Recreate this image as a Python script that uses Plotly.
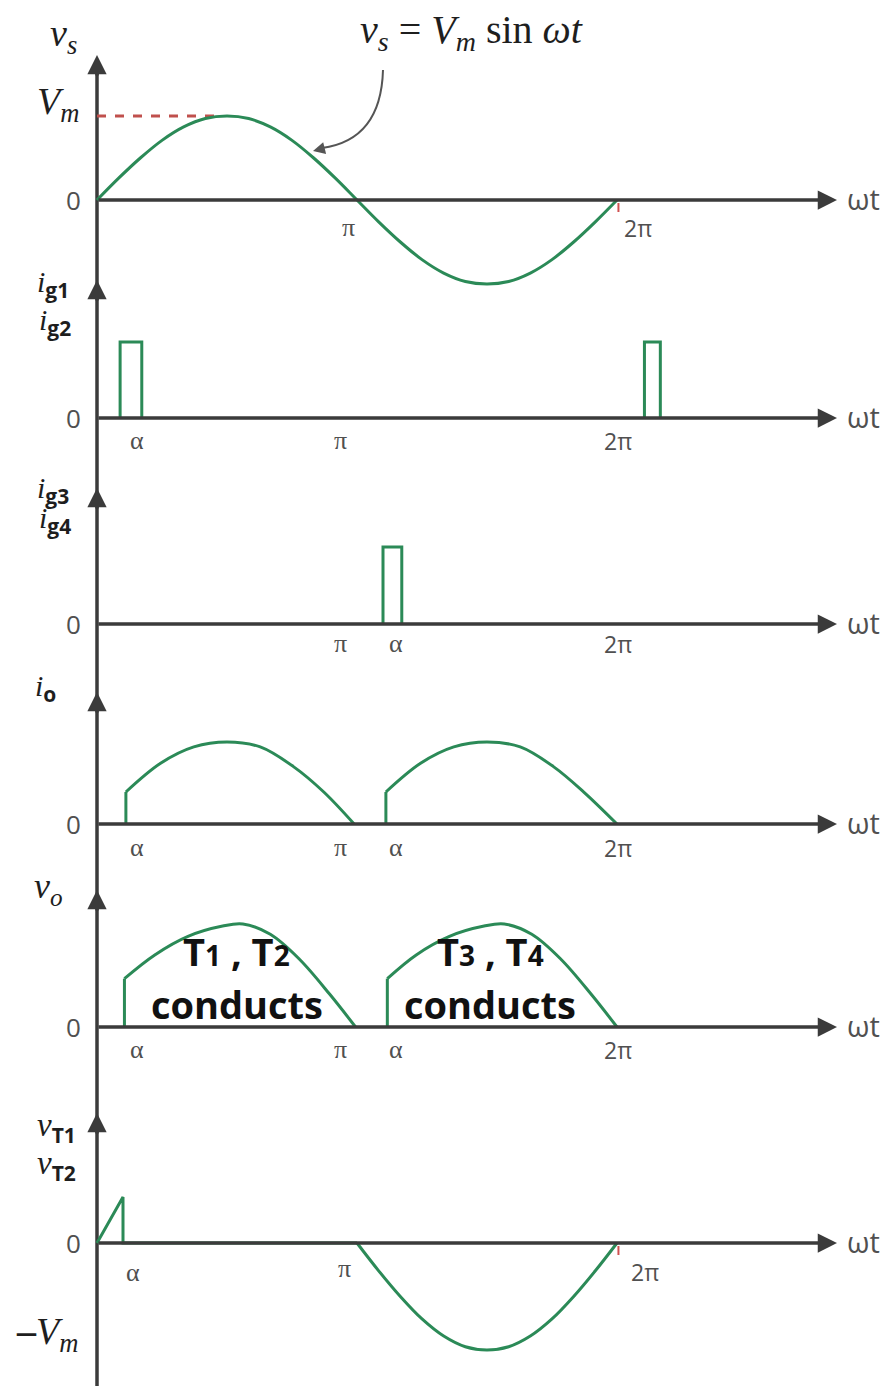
import plotly.graph_objects as go

# page body has an 8px margin; figure sized so it ends exactly at the window edge
OFF = 8
WIN_W, WIN_H = 891, 1395
W, H = WIN_W - OFF, WIN_H - OFF

# ---------------- data (angles in degrees, amplitudes normalised) ----------------
vs_deg = [0, 15, 30, 45, 60, 75, 90, 105, 120, 135, 150, 165, 180,
          195, 210, 225, 240, 255, 270, 285, 300, 315, 330, 345, 360]
vs_val = [0, 0.26, 0.5, 0.71, 0.87, 0.97, 1.0, 0.97, 0.87, 0.71, 0.5, 0.26, 0,
          -0.26, -0.5, -0.71, -0.87, -0.97, -1.0, -0.97, -0.87, -0.71, -0.5, -0.26, 0]
vm_dash_deg = [0, 82]
vm_dash_val = [1, 1]

ig12_start = [16, 379]
ig12_end = [31, 390]
ig34_start = [198]
ig34_end = [211]
pulse_height = 1.0

io_arch1_deg = [20, 44, 67, 90, 113, 136, 157, 178]
io_arch1_val = [0.39, 0.74, 0.94, 1.0, 0.94, 0.70, 0.39, 0]
io_arch2_deg = [200, 224, 247, 270, 293, 316, 337, 360]
io_arch2_val = [0.39, 0.74, 0.94, 1.0, 0.94, 0.70, 0.39, 0]

vo_arch1_deg = [19, 40, 63, 87, 101, 120, 140, 161, 179]
vo_arch1_val = [0.47, 0.70, 0.88, 0.98, 1.0, 0.90, 0.66, 0.32, 0]
vo_arch2_deg = [201, 221, 244, 268, 282, 301, 321, 342, 360]
vo_arch2_val = [0.47, 0.70, 0.88, 0.98, 1.0, 0.90, 0.66, 0.32, 0]

vt_tri_deg = [0, 18, 18, 180]
vt_tri_val = [0, 0.43, 0, 0]
vt_neg_deg = [180, 195, 210, 225, 240, 255, 270, 285, 300, 315, 330, 345, 360]
vt_neg_val = [0, -0.26, -0.5, -0.71, -0.87, -0.97, -1.0, -0.97, -0.87, -0.71, -0.5, -0.26, 0]

# ---------------- layout geometry (window pixel coordinates) ----------------
X0_PX = 97.0
PX_PER_DEG = 520.0 / 360.0
AX_END_DEG = (837 - X0_PX) / PX_PER_DEG

# (zero line px, px per unit, top px, bottom px)
panels = [
    (200, 84, 40, 300),
    (418, 76, 270, 470),
    (624, 77, 470, 670),
    (824, 82, 670, 870),
    (1027, 103, 870, 1090),
    (1243, 107, 1090, 1395),
]
arrow_tops = [55, 280, 488, 692, 890, 1113]

GREEN = "#2b8a57"
AXC = "#3b3b3b"
GRAY = "#505050"
SERIF = "Liberation Serif"
SANS = "Open Sans"


def yref(i):
    return "y" if i == 0 else f"y{i + 1}"


def px(x):
    return (x - OFF) / W


def py(y):
    return 1 - (y - OFF) / H


fig = go.Figure()


def add(xs, ys, i, shape="linear", color=GREEN, width=3, dash=None):
    fig.add_trace(go.Scatter(x=xs, y=ys, xaxis="x", yaxis=yref(i), mode="lines",
                             line=dict(color=color, width=width, shape=shape, dash=dash),
                             hoverinfo="skip", showlegend=False))


# panel 1
add(vm_dash_deg, vm_dash_val, 0, color="#c0504d", width=3, dash="dash")
add(vs_deg, vs_val, 0, shape="spline")


def pulses(starts, ends, i):
    xs, ys = [], []
    for a, b in zip(starts, ends):
        xs += [a, a, b, b, None]
        ys += [0, pulse_height, pulse_height, 0, None]
    add(xs, ys, i)


pulses(ig12_start, ig12_end, 1)
pulses(ig34_start, ig34_end, 2)


def arch(degs, vals, i):
    add([degs[0], degs[0]], [0, vals[0]], i)
    add(degs, vals, i, shape="spline")


arch(io_arch1_deg, io_arch1_val, 3)
arch(io_arch2_deg, io_arch2_val, 3)
arch(vo_arch1_deg, vo_arch1_val, 4)
arch(vo_arch2_deg, vo_arch2_val, 4)

add(vt_tri_deg, vt_tri_val, 5)
add(vt_neg_deg, vt_neg_val, 5, shape="spline")

annotations = []
shapes = []

# vertical axis line
shapes.append(dict(type="line", xref="x", yref="paper", x0=0, x1=0,
                   y0=py(1386), y1=py(arrow_tops[0] + 6), line=dict(color=AXC, width=3.5),
                   layer="below"))
for t in arrow_tops:
    annotations.append(dict(xref="x", yref="paper", x=0, y=py(t), ax=0, ay=22,
                            text="", showarrow=True, arrowhead=2, arrowsize=1.1,
                            arrowwidth=3.5, arrowcolor=AXC))

# small red marks below the axis at 2π (panels 1 and 6)
for i in (0, 5):
    z, u = panels[i][0], panels[i][1]
    shapes.append(dict(type="line", xref="x", yref=yref(i), x0=361, x1=361,
                       y0=-3 / u, y1=-12 / u, line=dict(color="#d05050", width=2)))


def lab(x, y, text, size=22, family=SERIF, color=GRAY, xanchor="center"):
    annotations.append(dict(xref="paper", yref="paper", x=px(x), y=py(y), text=text,
                            showarrow=False, xanchor=xanchor, yanchor="middle",
                            font=dict(family=family, size=size, color=color)))


# horizontal axes with arrows
for i in range(6):
    annotations.append(dict(xref="x", yref=yref(i), x=AX_END_DEG, y=0,
                            axref="x", ayref=yref(i), ax=0, ay=0,
                            text="", showarrow=True, arrowhead=2, arrowsize=1.1,
                            arrowwidth=3.5, arrowcolor=AXC))
    z = panels[i][0]
    lab(845, z - 2, "ωt", size=29, family=SANS, xanchor="left")
    lab(73, z, "0", size=26, family=SANS)

PI = "π"
AL = "α"
TWO_PI = "2π"
AS = 26
# tick-like labels
lab(348, 227, PI, size=AS); lab(638, 228, TWO_PI, size=23, family=SANS)
lab(137, 440, AL, size=AS); lab(340, 440, PI, size=AS); lab(618, 441, TWO_PI, size=23, family=SANS)
lab(340, 643, PI, size=AS); lab(396, 643, AL, size=AS); lab(618, 644, TWO_PI, size=23, family=SANS)
lab(137, 847, AL, size=AS); lab(340, 847, PI, size=AS); lab(396, 847, AL, size=AS); lab(618, 848, TWO_PI, size=23, family=SANS)
lab(137, 1049, AL, size=AS); lab(340, 1049, PI, size=AS); lab(396, 1049, AL, size=AS); lab(618, 1050, TWO_PI, size=23, family=SANS)
lab(133, 1272, AL, size=AS); lab(344, 1268, PI, size=AS); lab(645, 1272, TWO_PI, size=23, family=SANS)

# axis names
DK = "#1e1e1e"
BSUB = "<sub><span style=\"font-family:'Open Sans';font-weight:bold;font-size:21px\">{}</span></sub>"
lab(64, 36, "<i>v</i><sub><i>s</i></sub>", size=38, color=DK)
lab(58, 104, "<i>V</i><sub><i>m</i></sub>", size=38, color=DK)
lab(53, 285, "<i>i</i>" + BSUB.format("g1"), size=30, color=DK)
lab(55, 322, "<i>i</i>" + BSUB.format("g2"), size=30, color=DK)
lab(53, 490, "<i>i</i>" + BSUB.format("g3"), size=30, color=DK)
lab(55, 520, "<i>i</i>" + BSUB.format("g4"), size=30, color=DK)
lab(45, 689, "<i>i</i>" + BSUB.format("o"), size=30, color=DK)
lab(48, 888, "<i>v</i><sub><i>o</i></sub>", size=36, color=DK)
lab(56, 1128, "<i>v</i>" + BSUB.format("T1"), size=33, color=DK)
lab(56, 1166, "<i>v</i>" + BSUB.format("T2"), size=33, color=DK)
lab(47, 1334, "<b>–</b><i>V</i><sub><i>m</i></sub>", size=38, color=DK)

# equation
lab(471, 32, "<i>v</i><sub><i>s</i></sub> = <i>V</i><sub><i>m</i></sub> sin <i>ωt</i>",
    size=40, color=DK)

# conduction text
CB = "Open Sans"
DIG = "<span style='font-size:28px'>{}</span>"
lab(237, 951, "<b>T" + DIG.format("1") + " , T" + DIG.format("2") + "</b>",
    size=38, family=CB, color="#111")
lab(237, 1004, "<b>conducts</b>", size=38, family=CB, color="#111")
lab(490, 951, "<b>T" + DIG.format("3") + " , T" + DIG.format("4") + "</b>",
    size=38, family=CB, color="#111")
lab(490, 1004, "<b>conducts</b>", size=38, family=CB, color="#111")

# curved pointer arrow (panel-1 data coordinates)
P0 = panels[0]


def to_x(x):
    return (x - X0_PX) / PX_PER_DEG


def to_y0(y):
    return (P0[0] - y) / P0[1]


shapes.append(dict(type="path", xref="x", yref="y",
                   path=f"M {to_x(383)},{to_y0(70)} Q {to_x(381)},{to_y0(140)} {to_x(322)},{to_y0(148)}",
                   line=dict(color="#555555", width=2)))
annotations.append(dict(xref="x", yref="y", x=to_x(313), y=to_y0(151), ax=12, ay=-3,
                        text="", showarrow=True, arrowhead=2, arrowsize=1.2,
                        arrowwidth=2, arrowcolor="#555555"))

layout = dict(width=W, height=H, autosize=False,
              margin=dict(l=0, r=0, t=0, b=0, pad=0),
              plot_bgcolor="rgba(0,0,0,0)", paper_bgcolor="white",
              showlegend=False,
              xaxis=dict(range=[-(X0_PX - OFF) / PX_PER_DEG, (WIN_W - X0_PX) / PX_PER_DEG],
                         visible=False, fixedrange=True),
              annotations=annotations, shapes=shapes)
for i, (z, u, top, bot) in enumerate(panels):
    key = "yaxis" if i == 0 else f"yaxis{i + 1}"
    bot_c = min(bot, WIN_H)
    layout[key] = dict(domain=[max(0.0, py(bot_c)), min(1.0, py(top))],
                       range=[(z - bot_c) / u, (z - top) / u],
                       visible=False, fixedrange=True, anchor="x")
fig.update_layout(**layout)
fig.write_html("out.html")
